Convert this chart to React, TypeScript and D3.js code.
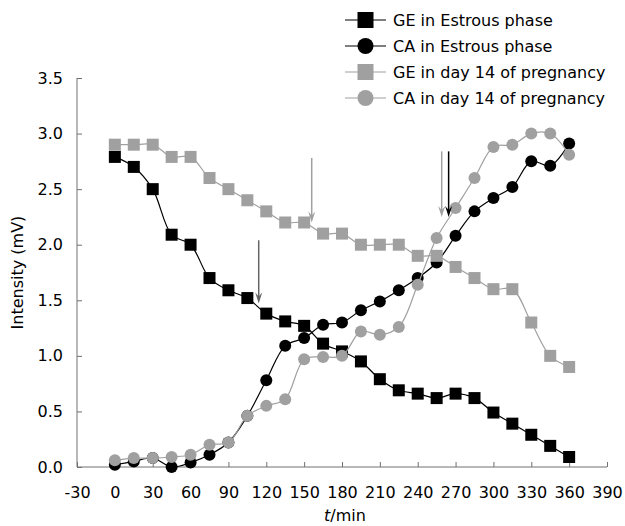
import React, { useEffect, useRef } from 'react';
import * as d3 from 'd3';

const times = [0, 15, 30, 45, 60, 75, 90, 105, 120, 135, 150, 165, 180, 195, 210, 225, 240, 255, 270, 285, 300, 315, 330, 345, 360];

const geEstrous = [2.79, 2.7, 2.5, 2.09, 2.0, 1.7, 1.59, 1.52, 1.38, 1.31, 1.27, 1.11, 1.04, 0.95, 0.79, 0.69, 0.66, 0.62, 0.66, 0.62, 0.49, 0.39, 0.29, 0.19, 0.09];
const caEstrous = [0.02, 0.05, 0.08, 0.0, 0.04, 0.11, 0.22, 0.46, 0.78, 1.09, 1.16, 1.28, 1.3, 1.41, 1.49, 1.59, 1.7, 1.84, 2.08, 2.3, 2.42, 2.52, 2.75, 2.71, 2.91];
const gePreg = [2.9, 2.9, 2.9, 2.79, 2.79, 2.6, 2.5, 2.4, 2.3, 2.2, 2.2, 2.1, 2.1, 2.0, 2.0, 2.0, 1.9, 1.9, 1.8, 1.7, 1.6, 1.6, 1.3, 1.0, 0.9];
const caPreg = [0.06, 0.08, 0.08, 0.09, 0.11, 0.2, 0.22, 0.46, 0.55, 0.61, 0.97, 0.99, 1.0, 1.22, 1.19, 1.26, 1.64, 2.06, 2.33, 2.6, 2.88, 2.9, 3.0, 3.0, 2.81];

const seriesNames = ['GE in Estrous phase', 'CA in Estrous phase', 'GE in day 14 of pregnancy', 'CA in day 14 of pregnancy'];
const seriesShapes = ['square', 'circle', 'square', 'circle'];
const seriesColors = ['#000000', '#000000', '#a0a0a0', '#a0a0a0'];

const xTicks = [-30, 0, 30, 60, 90, 120, 150, 180, 210, 240, 270, 300, 330, 360, 390];
const yTicks = [0, 0.5, 1.0, 1.5, 2.0, 2.5, 3.0, 3.5];

// arrows: time, top value, bottom value
const arrowTimes = [114, 156, 259, 264.5];
const arrowTops = [2.04, 2.78, 2.84, 2.84];
const arrowBottoms = [1.47, 2.2, 2.25, 2.25];
const arrowColors = ['#666666', '#a0a0a0', '#a0a0a0', '#000000'];

export default function App() {
  const svgRef = useRef<SVGSVGElement>(null);

  useEffect(() => {
    const width = 625;
    const height = 526;
    const font = '"DejaVu Sans", Verdana, sans-serif';
    const svg = d3.select(svgRef.current).attr('width', width).attr('height', height);
    svg.selectAll('*').remove();

    const x = d3.scaleLinear().domain([-30, 390]).range([77, 607]);
    const y = d3.scaleLinear().domain([0, 3.5]).range([467, 78]);

    const axisColor = '#707070';

    // y axis
    const yAxis = svg.append('g').attr('transform', `translate(${x(-30)},0)`)
      .call(d3.axisRight(y).tickValues(yTicks).tickSize(5).tickFormat(d3.format('.1f')));
    yAxis.select('.domain').attr('stroke', axisColor).attr('d', `M0,${y(3.5)}V${y(0)}`);
    yAxis.selectAll('.tick line').attr('stroke', axisColor);
    yAxis.selectAll('.tick text').attr('x', -14).attr('text-anchor', 'end')
      .attr('font-family', font).attr('font-size', 16).attr('fill', '#000');

    // x axis
    const xAxis = svg.append('g').attr('transform', `translate(0,${y(0)})`)
      .call(d3.axisTop(x).tickValues(xTicks).tickSize(5).tickFormat((d) => String(d)));
    xAxis.select('.domain').attr('stroke', axisColor).attr('d', `M${x(-30)},0H${x(390)}`);
    xAxis.selectAll('.tick line').attr('stroke', axisColor);
    xAxis.selectAll('.tick text').attr('y', 25).attr('dy', '0.35em')
      .attr('font-family', font).attr('font-size', 16).attr('fill', '#000');

    // axis titles
    svg.append('text')
      .attr('transform', `translate(23,${(y(0) + y(3.5)) / 2}) rotate(-90)`)
      .attr('text-anchor', 'middle').attr('font-family', font).attr('font-size', 16)
      .text('Intensity (mV)');
    const xt = svg.append('text').attr('x', 345).attr('y', 521).attr('text-anchor', 'middle')
      .attr('font-family', font).attr('font-size', 16);
    xt.append('tspan').attr('font-style', 'italic').text('t');
    xt.append('tspan').text('/min');

    const allSeries = [geEstrous, caEstrous, gePreg, caPreg];

    const line = d3.line<number>()
      .x((_, i) => x(times[i]))
      .y((d) => y(d))
      .curve(d3.curveCatmullRom.alpha(0.5));

    const drawMarker = (g: any, shape: string, cx: number, cy: number, color: string, size: number) => {
      if (shape === 'square') {
        g.append('rect').attr('x', cx - size / 2).attr('y', cy - size / 2)
          .attr('width', size).attr('height', size).attr('fill', color);
      } else {
        g.append('circle').attr('cx', cx).attr('cy', cy).attr('r', size / 2).attr('fill', color);
      }
    };

    allSeries.forEach((vals, k) => {
      const g = svg.append('g');
      g.append('path').datum(vals).attr('fill', 'none')
        .attr('stroke', seriesColors[k]).attr('stroke-width', 1.2).attr('d', line);
      vals.forEach((v, i) => {
        drawMarker(g, seriesShapes[k], x(times[i]), y(v), seriesColors[k], 12);
      });
    });

    // arrows
    arrowTimes.forEach((t, i) => {
      const ax = x(t);
      const top = y(arrowTops[i]);
      const bot = y(arrowBottoms[i]);
      svg.append('line').attr('x1', ax).attr('x2', ax).attr('y1', top).attr('y2', bot - 4)
        .attr('stroke', arrowColors[i]).attr('stroke-width', 1.5);
      svg.append('path')
        .attr('d', `M${ax},${bot} L${ax - 3.5},${bot - 11} L${ax},${bot - 7} L${ax + 3.5},${bot - 11} Z`)
        .attr('fill', arrowColors[i]);
    });

    // legend
    const legend = svg.append('g');
    seriesNames.forEach((name, k) => {
      const ly = 20 + k * 26;
      legend.append('line').attr('x1', 345).attr('x2', 386).attr('y1', ly).attr('y2', ly)
        .attr('stroke', seriesColors[k]).attr('stroke-width', 1.2);
      drawMarker(legend, seriesShapes[k], 365.5, ly, seriesColors[k], 16);
      legend.append('text').attr('x', 393).attr('y', ly).attr('dy', '0.35em')
        .attr('font-family', font).attr('font-size', 16).attr('fill', '#000').text(name);
    });
  }, []);

  return (
    <div style={{ position: 'absolute', left: 0, top: 0 }}>
      <svg ref={svgRef} style={{ display: 'block' }}></svg>
    </div>
  );
}
